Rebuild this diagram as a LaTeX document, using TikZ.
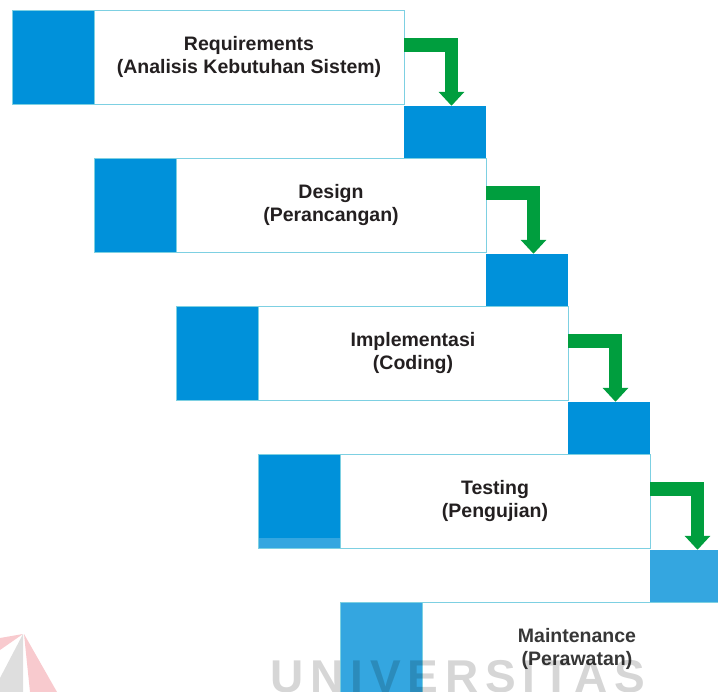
\documentclass[tikz,border=0pt]{standalone}
\usepackage{fontspec}
\setmainfont{Liberation Sans}
\newfontfamily\wmfont[LetterSpace=15]{Liberation Sans}
\usetikzlibrary{arrows.meta}

\definecolor{stageblue}{RGB}{0,145,218}
\definecolor{paleblue}{RGB}{52,166,224}
\definecolor{flowgreen}{RGB}{0,158,62}
\definecolor{edgecyan}{RGB}{125,208,226}
\definecolor{labelink}{RGB}{35,31,32}
\definecolor{softink}{RGB}{55,55,55}
\definecolor{logopink}{RGB}{248,202,206}
\definecolor{logogray}{RGB}{222,222,222}

\begin{document}
\begin{tikzpicture}[x=1pt,y=-1pt,
  stagebox/.style={draw=edgecyan, line width=0.8pt, fill=white,
    minimum width=310pt, minimum height=94pt, inner sep=0pt, align=center,
    font=\bfseries\fontsize{19.5}{23}\selectfont, text=labelink},
  tabsq/.style={fill=stageblue, draw=edgecyan, line width=0.8pt,
    minimum width=82pt, minimum height=94pt, inner sep=0pt},
  dropbox/.style={fill=stageblue, minimum width=82pt, minimum height=52pt, inner sep=0pt},
  flow/.style={draw=flowgreen, line width=13.5pt, line join=miter,
    -{Triangle[width=25pt,length=14pt]}},
  wm/.style={font=\wmfont\bfseries\fontsize{46}{46}\selectfont, text=black,
    text opacity=0.16, inner sep=0pt}
]
\useasboundingbox (0,0) rectangle (718,692);
\clip (0,0) rectangle (718,692);

% waterfall stages: text panel, blue tab on the left, blue drop block below right
\node[stagebox] (s1) at (249,57) {Requirements\\(Analisis Kebutuhan Sistem)};
\node[tabsq] (q1) at (53,57) {};
\node[dropbox] (r1) at (445,132) {};

\node[stagebox] (s2) at (331,205) {Design\\(Perancangan)};
\node[tabsq] (q2) at (135,205) {};
\node[dropbox] (r2) at (527,280) {};

\node[stagebox] (s3) at (413,353) {Implementasi\\(Coding)};
\node[tabsq] (q3) at (217,353) {};
\node[dropbox] (r3) at (609,428) {};

\node[stagebox] (s4) at (495,501) {Testing\\(Pengujian)};
\node[tabsq, path picture={\fill[paleblue] (path picture bounding box.south west)
    rectangle ([yshift=10pt]path picture bounding box.south east);}] (q4) at (299,501) {};
\node[dropbox, fill=paleblue] (r4) at (691,576) {};

\node[stagebox, text=softink] (s5) at (577,649) {Maintenance\\(Perawatan)};
\node[tabsq, fill=paleblue] (q5) at (381,649) {};

% green elbow arrows from each stage down to its drop block
\draw[flow] ([yshift=12pt]s1.east) -| ([xshift=6.5pt]r1.north);
\draw[flow] ([yshift=12pt]s2.east) -| ([xshift=6.5pt]r2.north);
\draw[flow] ([yshift=12pt]s3.east) -| ([xshift=6.5pt]r3.north);
\draw[flow] ([yshift=12pt]s4.east) -| ([xshift=6.5pt]r4.north);

% faint watermark
\fill[logopink] (0,638) -- (23,634) -- (0,650) -- cycle;
\fill[logogray] (23,634) -- (23,692) -- (0,692) -- (0,678) -- cycle;
\fill[logopink] (24,634) -- (57,692) -- (30,692) -- cycle;
\node[wm, anchor=base west] (wmark) at (270,692) {UNIVERSITAS};
\end{tikzpicture}
\end{document}
